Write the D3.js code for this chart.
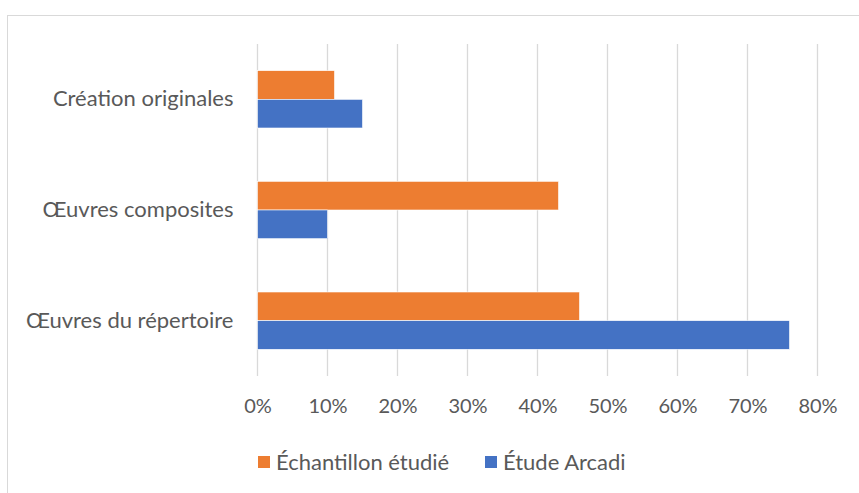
<!DOCTYPE html>
<html>
<head>
<meta charset="utf-8">
<script src="https://cdn.jsdelivr.net/npm/d3@7"></script>
<style>
  body { margin: 0; background: #fff; }
  text { font-family: Lato, "Open Sans", sans-serif; fill: #595959; }
</style>
</head>
<body>
<div id="chart"></div>
<script>
// Data
var categories = ["Création originales", "Œuvres composites", "Œuvres du répertoire"];
var seriesNames = ["Échantillon étudié", "Étude Arcadi"];
var echantillon = [0.11, 0.43, 0.46];
var arcadi = [0.15, 0.10, 0.76];
var xTicks = [0, 0.1, 0.2, 0.3, 0.4, 0.5, 0.6, 0.7, 0.8];

var width = 859, height = 493;
var color = d3.scaleOrdinal().domain(seriesNames).range(["#ED7D31", "#4472C4"]);

var rows = categories.map(function(c, i) {
  return { cat: c, values: [echantillon[i], arcadi[i]] };
});

var svg = d3.select("#chart").append("svg")
    .attr("width", width)
    .attr("height", height);

// Outer border (only top and left visible in the frame)
svg.append("rect")
    .attr("x", 7.5).attr("y", 15.5)
    .attr("width", 900).attr("height", 600)
    .attr("fill", "none")
    .attr("stroke", "#d9d9d9");

var x = d3.scaleLinear().domain([0, 0.8]).range([257.5, 817.5]);

var y0 = d3.scaleBand()
    .domain(categories)
    .range([44, 376])
    .paddingInner(0.482)
    .paddingOuter(0.241);

var y1 = d3.scaleBand()
    .domain(seriesNames)
    .range([0, y0.bandwidth()]);

// Grid lines
svg.append("g")
  .selectAll("line")
  .data(xTicks)
  .enter().append("line")
    .attr("x1", function(d) { return x(d); })
    .attr("x2", function(d) { return x(d); })
    .attr("y1", 44)
    .attr("y2", 376)
    .attr("stroke", "#d9d9d9")
    .attr("stroke-width", 1.3);

// X axis labels
var xAxis = d3.axisBottom(x)
    .tickValues(xTicks)
    .tickFormat(d3.format(".0%"))
    .tickSize(0)
    .tickPadding(0);

var gx = svg.append("g")
    .attr("transform", "translate(0,400)")
    .call(xAxis);
gx.select(".domain").remove();
gx.selectAll("text")
    .attr("dy", "0.32em")
    .attr("y", 7)
    .style("font-size", "20px")
    .style("font-family", "Lato, sans-serif")
    .attr("fill", "#595959");

// Y axis labels
var yAxis = d3.axisLeft(y0).tickSize(0).tickPadding(24);
var gy = svg.append("g")
    .attr("transform", "translate(257.5,0)")
    .call(yAxis);
gy.select(".domain").remove();
gy.selectAll("text")
    .style("font-size", "22px")
    .style("font-family", "Lato, sans-serif")
    .attr("fill", "#595959");

// Bars
var group = svg.append("g")
  .selectAll(".grp")
  .data(rows)
  .enter().append("g")
    .attr("class", "grp")
    .attr("transform", function(d) { return "translate(0," + y0(d.cat) + ")"; });

group.selectAll("rect")
  .data(function(d) {
    return d.values.map(function(v, i) { return { name: seriesNames[i], value: v }; });
  })
  .enter().append("rect")
    .attr("x", x(0))
    .attr("y", function(d) { return y1(d.name); })
    .attr("width", function(d) { return x(d.value) - x(0); })
    .attr("height", y1.bandwidth())
    .attr("fill", function(d) { return color(d.name); })
    .attr("stroke", "#fff")
    .attr("stroke-width", 0.6);

// Legend
var legendX = [258, 485];
var legend = svg.append("g")
  .selectAll(".leg")
  .data(seriesNames)
  .enter().append("g")
    .attr("class", "leg")
    .attr("transform", function(d, i) { return "translate(" + legendX[i] + ",456)"; });

legend.append("rect")
    .attr("width", 12)
    .attr("height", 12)
    .attr("fill", function(d) { return color(d); });

legend.append("text")
    .attr("x", 18)
    .attr("y", 6)
    .attr("dy", "0.35em")
    .style("font-size", "22px")
    .text(function(d) { return d; });
</script>
</body>
</html>
